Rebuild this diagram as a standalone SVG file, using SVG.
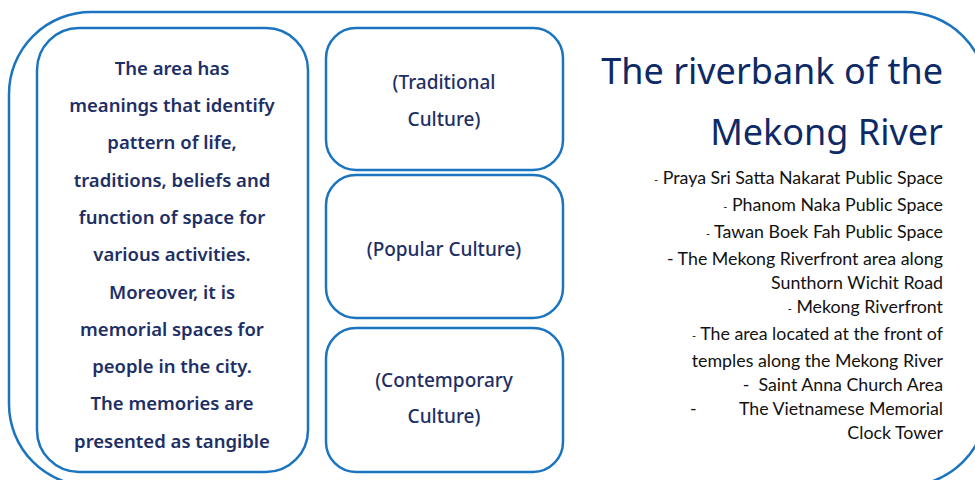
<svg xmlns="http://www.w3.org/2000/svg" width="975" height="480" viewBox="0 0 975 480">
<style>
.box{fill:#fff;stroke:#1b74c0;stroke-width:2.5}
.lt{font-family:"Noto Sans","Open Sans",sans-serif;font-size:18.5px;font-weight:600;fill:#1e2f66;text-anchor:middle}
.mt{font-family:"Noto Sans","Open Sans",sans-serif;font-size:19px;font-weight:500;fill:#1e2f66;text-anchor:middle}
.tt{font-family:"Noto Sans","Open Sans",sans-serif;font-size:36px;fill:#0e2a66;text-anchor:end}
.li{font-family:Lato,"Liberation Sans",sans-serif;font-size:17.8px;fill:#111;text-anchor:end}
.d{font-size:11px}
</style>
<rect x="0" y="0" width="975" height="480" fill="#fff"/>
<g id="outer"><rect class="box" x="9" y="12" width="978" height="474" rx="82"/></g>
<g id="left">
<rect class="box" x="37" y="28" width="271" height="444" rx="42"/>
<text class="lt" x="172" y="75">The area has</text>
<text class="lt" x="172" y="112">meanings that identify</text>
<text class="lt" x="172" y="149">pattern of life,</text>
<text class="lt" x="172" y="187">traditions, beliefs and</text>
<text class="lt" x="172" y="224">function of space for</text>
<text class="lt" x="172" y="261">various activities.</text>
<text class="lt" x="172" y="299">Moreover, it is</text>
<text class="lt" x="172" y="336">memorial spaces for</text>
<text class="lt" x="172" y="373">people in the city.</text>
<text class="lt" x="172" y="410">The memories are</text>
<text class="lt" x="172" y="448">presented as tangible</text>
</g>
<g id="traditional">
<rect class="box" x="326" y="28" width="237" height="142" rx="30"/>
<text class="mt" x="444" y="89">(Traditional</text>
<text class="mt" x="444" y="126">Culture)</text>
</g>
<g id="popular">
<rect class="box" x="326" y="175" width="237" height="143" rx="30"/>
<text class="mt" x="444" y="256">(Popular Culture)</text>
</g>
<g id="contemporary">
<rect class="box" x="326" y="328" width="237" height="144" rx="30"/>
<text class="mt" x="444" y="387">(Contemporary</text>
<text class="mt" x="444" y="423">Culture)</text>
</g>
<g id="title">
<text class="tt" x="943" y="84">The riverbank of the</text>
<text class="tt" x="943" y="145">Mekong River</text>
</g>
<g id="list">
<text class="li" x="943" y="184"><tspan class="d">-</tspan> Praya Sri Satta Nakarat Public Space</text>
<text class="li" x="943" y="211"><tspan class="d">-</tspan> Phanom Naka Public Space</text>
<text class="li" x="943" y="238"><tspan class="d">-</tspan> Tawan Boek Fah Public Space</text>
<text class="li" x="943" y="265">- The Mekong Riverfront area along</text>
<text class="li" x="943" y="289">Sunthorn Wichit Road</text>
<text class="li" x="943" y="313"><tspan class="d">-</tspan> Mekong Riverfront</text>
<text class="li" x="943" y="340"><tspan class="d">-</tspan> The area located at the front of</text>
<text class="li" x="943" y="367">temples along the Mekong River</text>
<text class="li" x="943" y="391">-&#160; Saint Anna Church Area</text>
<text class="li" x="690" y="415" style="text-anchor:start">-</text>
<text class="li" x="943" y="415">The Vietnamese Memorial</text>
<text class="li" x="943" y="439">Clock Tower</text>
</g>
</svg>
